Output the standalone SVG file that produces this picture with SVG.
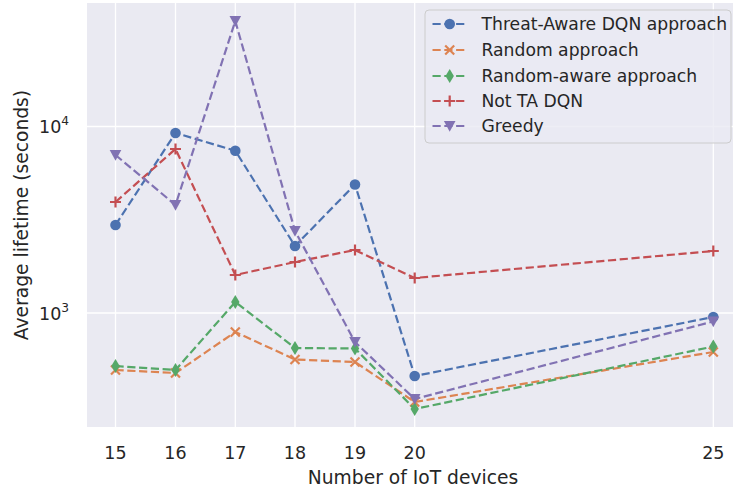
<svg xmlns="http://www.w3.org/2000/svg" width="733" height="492" viewBox="0 0 733 492">
<style>
text{font-family:"DejaVu Sans","Liberation Sans",sans-serif;fill:#262626}
.tick{font-size:17.5px;text-anchor:middle}
.lab{font-size:18.7px;text-anchor:middle}
.leg{font-size:17.2px}
.grid{stroke:#ffffff;stroke-width:1.3}
.ln{fill:none;stroke-width:2.2;stroke-dasharray:8.2 3.6}
.b{stroke:#4C72B0}.bf{fill:#4C72B0}
.o{stroke:#DD8452}.of{fill:#DD8452}
.g{stroke:#55A868}.gf{fill:#55A868}
.r{stroke:#C44E52}.rf{fill:#C44E52}
.p{stroke:#8172B3}.pf{fill:#8172B3}
.mk{stroke-width:2.2;fill:none}
</style>
<defs>
<circle id="mc" r="5.3"/>
<path id="mx" d="M-4.5,-4.5L4.5,4.5M-4.5,4.5L4.5,-4.5"/>
<path id="md" d="M0,-7L4.2,0L0,7L-4.2,0Z"/>
<path id="mp" d="M-5.5,0H5.5M0,-5.5V5.5"/>
<path id="mv" d="M-5.8,-5L5.8,-5L0,5.8Z"/>
</defs>
<rect x="0" y="0" width="733" height="492" fill="#ffffff"/>
<g id="axes">
<rect x="87" y="3" width="646" height="424" fill="#EAEAF2"/>
<g class="grid">
<line x1="115.5" y1="3" x2="115.5" y2="427"/>
<line x1="175.5" y1="3" x2="175.5" y2="427"/>
<line x1="235.3" y1="3" x2="235.3" y2="427"/>
<line x1="295" y1="3" x2="295" y2="427"/>
<line x1="355" y1="3" x2="355" y2="427"/>
<line x1="414.7" y1="3" x2="414.7" y2="427"/>
<line x1="713.3" y1="3" x2="713.3" y2="427"/>
<line x1="87" y1="126.5" x2="733" y2="126.5"/>
<line x1="87" y1="313" x2="733" y2="313"/>
</g>
<g id="xticks">
<text class="tick" x="115.5" y="458.5">15</text>
<text class="tick" x="175.5" y="458.5">16</text>
<text class="tick" x="235.3" y="458.5">17</text>
<text class="tick" x="295" y="458.5">18</text>
<text class="tick" x="355" y="458.5">19</text>
<text class="tick" x="414.7" y="458.5">20</text>
<text class="tick" x="713.3" y="458.5">25</text>
</g>
<g id="yticks">
<text x="39" y="132.7" style="font-size:17.5px">10<tspan dy="-7.5" style="font-size:12.2px">4</tspan></text>
<text x="39" y="319.5" style="font-size:17.5px">10<tspan dy="-7.5" style="font-size:12.2px">3</tspan></text>
</g>
<text class="lab" x="413" y="483.5">Number of IoT devices</text>
<text class="lab" transform="translate(27.5,215) rotate(-90)">Average lifetime (seconds)</text>
</g>
<g id="connectors">
<g id="series-blue">
<polyline class="ln b" points="115.5,225 175.5,133 235.3,150.7 295,246 355,184.5 414.7,376 713.3,317"/>
<g class="bf">
<use href="#mc" x="115.5" y="225"/><use href="#mc" x="175.5" y="133"/><use href="#mc" x="235.3" y="150.7"/><use href="#mc" x="295" y="246"/><use href="#mc" x="355" y="184.5"/><use href="#mc" x="414.7" y="376"/><use href="#mc" x="713.3" y="317"/>
</g>
</g>
<g id="series-orange">
<polyline class="ln o" points="115.5,370 175.5,373 235.3,332 295,359.5 355,362 414.7,402 713.3,352"/>
<g class="mk o">
<use href="#mx" x="115.5" y="370"/><use href="#mx" x="175.5" y="373"/><use href="#mx" x="235.3" y="332"/><use href="#mx" x="295" y="359.5"/><use href="#mx" x="355" y="362"/><use href="#mx" x="414.7" y="402"/><use href="#mx" x="713.3" y="352"/>
</g>
</g>
<g id="series-green">
<polyline class="ln g" points="115.5,366 175.5,370 235.3,302 295,348 355,348.5 414.7,409 713.3,346.5"/>
<g class="gf">
<use href="#md" x="115.5" y="366"/><use href="#md" x="175.5" y="370"/><use href="#md" x="235.3" y="302"/><use href="#md" x="295" y="348"/><use href="#md" x="355" y="348.5"/><use href="#md" x="414.7" y="409"/><use href="#md" x="713.3" y="346.5"/>
</g>
</g>
<g id="series-red">
<polyline class="ln r" points="115.5,202 175.5,149 235.3,275 295,262 355,250 414.7,278 713.3,251"/>
<g class="mk r">
<use href="#mp" x="115.5" y="202"/><use href="#mp" x="175.5" y="149"/><use href="#mp" x="235.3" y="275"/><use href="#mp" x="295" y="262"/><use href="#mp" x="355" y="250"/><use href="#mp" x="414.7" y="278"/><use href="#mp" x="713.3" y="251"/>
</g>
</g>
<g id="series-purple">
<polyline class="ln p" points="115.5,155 175.5,205 235.3,21 295,231 355,342 414.7,399 713.3,321.5"/>
<g class="pf">
<use href="#mv" x="115.5" y="155"/><use href="#mv" x="175.5" y="205"/><use href="#mv" x="235.3" y="21"/><use href="#mv" x="295" y="231"/><use href="#mv" x="355" y="342"/><use href="#mv" x="414.7" y="399"/><use href="#mv" x="713.3" y="321.5"/>
</g>
</g>
</g>
<g id="legend">
<rect x="425" y="10" width="306" height="133" rx="4" fill="#EAEAF2" fill-opacity="0.8" stroke="#CCCCCC" stroke-width="1"/>
<line class="ln b" x1="432.5" y1="24" x2="467" y2="24"/>
<use class="bf" href="#mc" x="449.7" y="24"/>
<text class="leg" x="481.5" y="30">Threat-Aware DQN approach</text>
<line class="ln o" x1="432.5" y1="50" x2="467" y2="50"/>
<use class="mk o" href="#mx" x="449.7" y="50"/>
<text class="leg" x="481.5" y="56">Random approach</text>
<line class="ln g" x1="432.5" y1="76" x2="467" y2="76"/>
<use class="gf" href="#md" x="449.7" y="76"/>
<text class="leg" x="481.5" y="82">Random-aware approach</text>
<line class="ln r" x1="432.5" y1="101" x2="467" y2="101"/>
<use class="mk r" href="#mp" x="449.7" y="101"/>
<text class="leg" x="481.5" y="107">Not TA DQN</text>
<line class="ln p" x1="432.5" y1="126" x2="467" y2="126"/>
<use class="pf" href="#mv" x="449.7" y="126"/>
<text class="leg" x="481.5" y="132">Greedy</text>
</g>
</svg>
